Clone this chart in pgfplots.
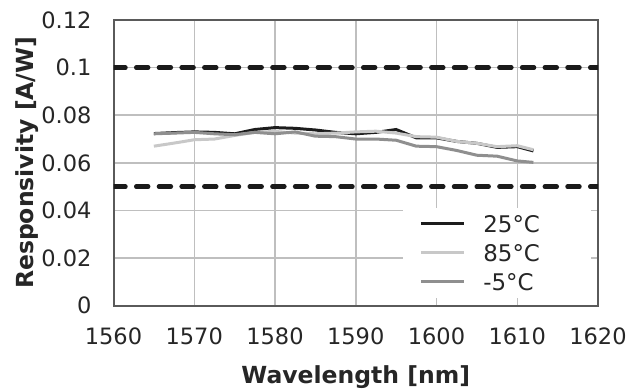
\documentclass[border=0pt]{standalone}
\usepackage{fontspec}
\setmainfont{DejaVu Sans}
\usepackage{pgfplots}
\pgfplotsset{compat=1.18}
\definecolor{cblack}{HTML}{1C1C1C}
\definecolor{clight}{HTML}{C8C8C8}
\definecolor{cmed}{HTML}{8F8F8F}
\definecolor{cdash}{HTML}{1A1A1A}
\definecolor{gridc}{HTML}{BFBFBF}
\definecolor{framec}{HTML}{5A5A5A}
\definecolor{textc}{HTML}{262626}
\begin{document}
\begin{tikzpicture}
\path[use as bounding box] (0,0) rectangle (314bp,196bp);
\begin{axis}[
  at={(56.75bp,43.15bp)}, anchor=south west,
  scale only axis, width=242.25bp, height=142.85bp,
  xmin=1560, xmax=1620, ymin=0, ymax=0.12,
  xtick={1560,1570,1580,1590,1600,1610,1620},
  ytick={0,0.02,0.04,0.06,0.08,0.1,0.12},
  grid=major, major grid style={color=gridc, line width=0.75bp},
  axis line style={color=framec, line width=1bp},
  major tick length=0pt,
  tick label style={font=\fontsize{11.3}{13}\selectfont, color=textc},
  /pgf/number format/assume math mode=true,
  scaled y ticks=false,
  yticklabel style={/pgf/number format/fixed, /pgf/number format/precision=2, xshift=-7.5bp},
  xticklabel style={/pgf/number format/1000 sep={}, yshift=-7.5bp},
  xlabel={Wavelength [nm]}, ylabel={Responsivity [A/W]},
  label style={font=\bfseries\fontsize{11.8}{14}\selectfont, color=textc},
  xlabel style={at={(axis description cs:0.5,-0.1836)}, anchor=north},
  ylabel style={at={(axis description cs:-0.1406,0.5)}, anchor=south},
  legend style={at={(axis description cs:0.5975,0.027)}, anchor=south west,
    draw=none, fill=white, font=\fontsize{11.5}{13}\selectfont, text=textc,
    inner xsep=8bp, inner ysep=0.75bp, row sep=0bp, column sep=7bp,
    nodes={inner ysep=0bp, text height=11.5bp, text depth=3bp},
    /tikz/every even column/.append style={text width=44bp}},
  legend cell align=left,
  legend image code/.code={\draw[#1] (0bp,0bp) -- (21.5bp,0bp);},
]
\addplot[cdash, line width=2.2bp, dash pattern=on 6bp off 5.35bp, line cap=round, forget plot] coordinates {(1560,0.1) (1620,0.1)};
\addplot[cdash, line width=2.2bp, dash pattern=on 6bp off 5.35bp, line cap=round, forget plot] coordinates {(1560,0.05) (1620,0.05)};
\addplot[cblack, line width=1.5bp] coordinates {
(1565,0.0723) (1567.5,0.0727) (1570,0.0730) (1572.5,0.0728) (1575,0.0722) (1577.5,0.0740)
(1580,0.0748) (1582.5,0.0745) (1585,0.0738) (1587.5,0.0728) (1590,0.0722) (1592.5,0.0728)
(1595,0.0740) (1597.5,0.0705) (1600,0.0705) (1602.5,0.0690) (1605,0.0682) (1607.5,0.0665)
(1610,0.0668) (1612,0.0650)};
\addlegendentry{25°C}
\addplot[clight, line width=1.5bp] coordinates {
(1565,0.0670) (1567.5,0.0683) (1570,0.0697) (1572.5,0.0700) (1575,0.0715) (1577.5,0.0728)
(1580,0.0732) (1582.5,0.0725) (1585,0.0722) (1587.5,0.0725) (1590,0.0730) (1592.5,0.0733)
(1595,0.0725) (1597.5,0.0710) (1600,0.0708) (1602.5,0.0690) (1605,0.0682) (1607.5,0.0668)
(1610,0.0672) (1612,0.0655)};
\addlegendentry{85°C}
\addplot[cmed, line width=1.5bp] coordinates {
(1565,0.0722) (1567.5,0.0725) (1570,0.0728) (1572.5,0.0722) (1575,0.0718) (1577.5,0.0728)
(1580,0.0722) (1582.5,0.0730) (1585,0.0712) (1587.5,0.0710) (1590,0.0700) (1592.5,0.0700)
(1595,0.0695) (1597.5,0.0670) (1600,0.0668) (1602.5,0.0652) (1605,0.0632) (1607.5,0.0628)
(1610,0.0608) (1612,0.0602)};
\addlegendentry{-5°C}
\end{axis}
\end{tikzpicture}
\end{document}
